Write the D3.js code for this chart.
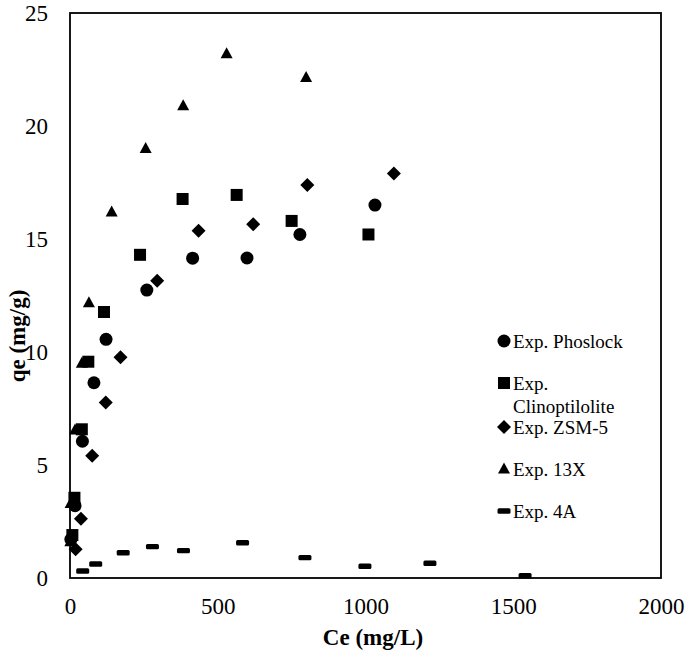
<!DOCTYPE html>
<html>
<head>
<meta charset="utf-8">
<script src="https://cdn.jsdelivr.net/npm/d3@7"></script>
<style>
  html, body { margin: 0; padding: 0; background: #fff; }
  svg { display: block; }
  text { font-family: "Liberation Serif", "Times New Roman", serif; fill: #000; }
</style>
</head>
<body>
<svg id="chart" width="685" height="653"></svg>
<script>
// ---- data ----
const seriesNames = ["Exp. Phoslock", "Exp. Clinoptilolite", "Exp. ZSM-5", "Exp. 13X", "Exp. 4A"];
const phoslockX = [3, 17, 42, 81, 122, 260, 415, 599, 778, 1032];
const phoslockY = [1.71, 3.2, 6.05, 8.64, 10.56, 12.74, 14.15, 14.16, 15.2, 16.5];
const clinoX = [8, 15, 40, 62, 115, 237, 381, 564, 750, 1010];
const clinoY = [1.9, 3.55, 6.58, 9.57, 11.77, 14.3, 16.77, 16.95, 15.8, 15.2];
const zsmX = [19, 37, 75, 121, 171, 295, 435, 620, 803, 1096];
const zsmY = [1.27, 2.62, 5.41, 7.77, 9.77, 13.15, 15.37, 15.65, 17.39, 17.9];
const x13X = [1, 2, 17, 40, 64, 141, 256, 383, 530, 799];
const y13X = [1.6, 3.3, 6.55, 9.5, 12.18, 16.2, 19.0, 20.9, 23.2, 22.15];
const a4X = [43, 87, 180, 279, 384, 584, 795, 998, 1218, 1540];
const a4Y = [0.31, 0.62, 1.12, 1.39, 1.21, 1.56, 0.9, 0.52, 0.65, 0.1];
const xTicks = [0, 500, 1000, 1500, 2000];
const yTicks = [0, 5, 10, 15, 20, 25];
const xTitle = "Ce (mg/L)";
const yTitle = "qe (mg/g)";

// ---- layout ----
const svg = d3.select("#chart");
const L = 70, R = 661, T = 13, B = 578;
const x = d3.scaleLinear().domain([0, 2000]).range([L, R]);
const y = d3.scaleLinear().domain([0, 25]).range([B, T]);

// frame
svg.append("rect").attr("x", L).attr("y", T).attr("width", R - L).attr("height", B - T)
  .attr("fill", "none").attr("stroke", "#000").attr("stroke-width", 1.8);

// axes (labels only, no tick marks)
const xAxis = svg.append("g").attr("transform", `translate(0,${B})`)
  .call(d3.axisBottom(x).tickValues(xTicks).tickSize(0).tickPadding(20).tickFormat(d3.format("d")));
xAxis.select(".domain").remove();
xAxis.selectAll("text").style("font-size", "23px").style("font-family", "Liberation Serif");

const yAxis = svg.append("g").attr("transform", `translate(${L},0)`)
  .call(d3.axisLeft(y).tickValues(yTicks).tickSize(0).tickPadding(22).tickFormat(d3.format("d")));
yAxis.select(".domain").remove();
yAxis.selectAll("text").style("font-size", "23px").style("font-family", "Liberation Serif");

// titles
svg.append("text").attr("x", 373).attr("y", 645).attr("text-anchor", "middle")
  .style("font-size", "23px").style("font-weight", "bold").text(xTitle);
svg.append("text").attr("transform", "translate(25,336) rotate(-90)").attr("text-anchor", "middle")
  .style("font-size", "23px").style("font-weight", "bold").text(yTitle);

// symbols
function drawSymbol(g, type, cx, cy) {
  if (type === "circle") {
    g.append("circle").attr("cx", cx).attr("cy", cy).attr("r", 6.5).attr("fill", "#000");
  } else if (type === "square") {
    g.append("rect").attr("x", cx - 6).attr("y", cy - 6).attr("width", 12).attr("height", 12).attr("fill", "#000");
  } else if (type === "diamond") {
    g.append("path").attr("d", `M${cx},${cy - 7}L${cx + 7},${cy}L${cx},${cy + 7}L${cx - 7},${cy}Z`).attr("fill", "#000");
  } else if (type === "triangle") {
    g.append("path").attr("d", `M${cx},${cy - 6.5}L${cx + 6},${cy + 4.5}L${cx - 6},${cy + 4.5}Z`).attr("fill", "#000");
  } else if (type === "dash") {
    g.append("rect").attr("x", cx - 6.5).attr("y", cy - 2.7).attr("width", 13).attr("height", 5.4)
      .attr("rx", 1.5).attr("fill", "#000");
  }
}

const series = [
  { xs: phoslockX, ys: phoslockY, type: "circle" },
  { xs: clinoX, ys: clinoY, type: "square" },
  { xs: zsmX, ys: zsmY, type: "diamond" },
  { xs: x13X, ys: y13X, type: "triangle" },
  { xs: a4X, ys: a4Y, type: "dash" }
];

const marks = svg.append("g");
series.forEach(s => {
  const g = marks.append("g");
  s.xs.forEach((xv, i) => drawSymbol(g, s.type, x(xv), y(s.ys[i])));
});

// legend
const legend = svg.append("g");
const legRows = [341, 383, 427, 469, 511];
series.forEach((s, i) => {
  const cy = legRows[i];
  drawSymbol(legend, s.type, 504, cy);
  const name = seriesNames[i];
  if (name === "Exp. Clinoptilolite") {
    const t = legend.append("text").attr("x", 513).attr("y", cy + 6.5).style("font-size", "19px");
    t.append("tspan").attr("x", 513).text("Exp.");
    t.append("tspan").attr("x", 513).attr("dy", 23).text("Clinoptilolite");
  } else {
    legend.append("text").attr("x", 513).attr("y", cy + 6.5).style("font-size", "19px").text(name);
  }
});
</script>
</body>
</html>
